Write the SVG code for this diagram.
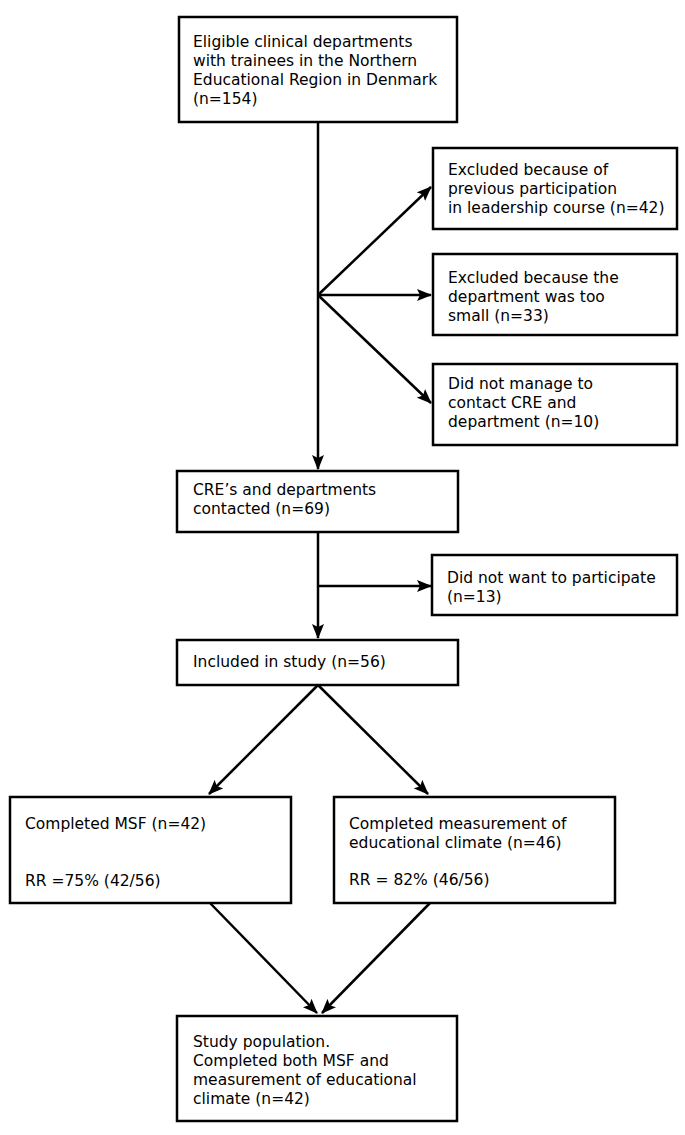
<svg xmlns="http://www.w3.org/2000/svg" width="685" height="1135" viewBox="0 0 685 1135">
<style>
.box{fill:#fff;stroke:#000;stroke-width:2.5}
.t{font-family:"DejaVu Sans",Verdana,sans-serif;font-size:15.5px;fill:#000}
.c{stroke:#000;stroke-width:2.5;fill:none;marker-end:url(#ah)}
</style>
<defs>
<marker id="ah" markerUnits="userSpaceOnUse" markerWidth="15" markerHeight="12" refX="14" refY="6" orient="auto">
<path d="M0,0 L15,6 L0,12 L3,6 z" fill="#000"/>
</marker>
</defs>
<rect width="685" height="1135" fill="#fff"/>
<g id="connectors">
<line class="c" x1="318" y1="122" x2="318" y2="469"/>
<line class="c" x1="318" y1="295" x2="431" y2="187"/>
<line class="c" x1="318" y1="295" x2="431" y2="295"/>
<line class="c" x1="318" y1="295" x2="431" y2="403"/>
<line class="c" x1="318" y1="532" x2="318" y2="638"/>
<line class="c" x1="318" y1="586" x2="431" y2="586"/>
<line class="c" x1="318" y1="685" x2="209" y2="794"/>
<line class="c" x1="318" y1="685" x2="428" y2="794"/>
<line class="c" x1="210" y1="903" x2="317" y2="1013"/>
<line class="c" x1="430" y1="903" x2="322" y2="1013"/>
</g>
<g id="n1"><rect class="box" x="179" y="17" width="278" height="105"/>
<text class="t" x="193" y="47">Eligible clinical departments</text>
<text class="t" x="193" y="66">with trainees in the Northern</text>
<text class="t" x="193" y="85">Educational Region in Denmark</text>
<text class="t" x="193" y="104">(n=154)</text></g>
<g id="n2"><rect class="box" x="433" y="148" width="244" height="81"/>
<text class="t" x="448" y="175">Excluded because of</text>
<text class="t" x="448" y="194">previous participation</text>
<text class="t" x="448" y="213">in leadership course (n=42)</text></g>
<g id="n3"><rect class="box" x="433" y="254" width="244" height="81"/>
<text class="t" x="448" y="283">Excluded because the</text>
<text class="t" x="448" y="302">department was too</text>
<text class="t" x="448" y="321">small (n=33)</text></g>
<g id="n4"><rect class="box" x="433" y="364" width="244" height="81"/>
<text class="t" x="448" y="389">Did not manage to</text>
<text class="t" x="448" y="408">contact CRE and</text>
<text class="t" x="448" y="427">department (n=10)</text></g>
<g id="n5"><rect class="box" x="177" y="471" width="281" height="61"/>
<text class="t" x="193" y="495">CRE’s and departments</text>
<text class="t" x="193" y="514">contacted (n=69)</text></g>
<g id="n6"><rect class="box" x="432" y="555" width="245" height="60"/>
<text class="t" x="447" y="583">Did not want to participate</text>
<text class="t" x="447" y="602">(n=13)</text></g>
<g id="n7"><rect class="box" x="177" y="640" width="281" height="45"/>
<text class="t" x="193" y="667">Included in study (n=56)</text></g>
<g id="n8"><rect class="box" x="10" y="797" width="281" height="106"/>
<text class="t" x="25" y="829">Completed MSF (n=42)</text>
<text class="t" x="25" y="886">RR =75% (42/56)</text></g>
<g id="n9"><rect class="box" x="334" y="797" width="281" height="106"/>
<text class="t" x="349" y="829">Completed measurement of</text>
<text class="t" x="349" y="848">educational climate (n=46)</text>
<text class="t" x="349" y="885">RR = 82% (46/56)</text></g>
<g id="n10"><rect class="box" x="177" y="1016" width="280" height="105"/>
<text class="t" x="193" y="1047">Study population.</text>
<text class="t" x="193" y="1066">Completed both MSF and</text>
<text class="t" x="193" y="1085">measurement of educational</text>
<text class="t" x="193" y="1104">climate (n=42)</text></g>
</svg>
